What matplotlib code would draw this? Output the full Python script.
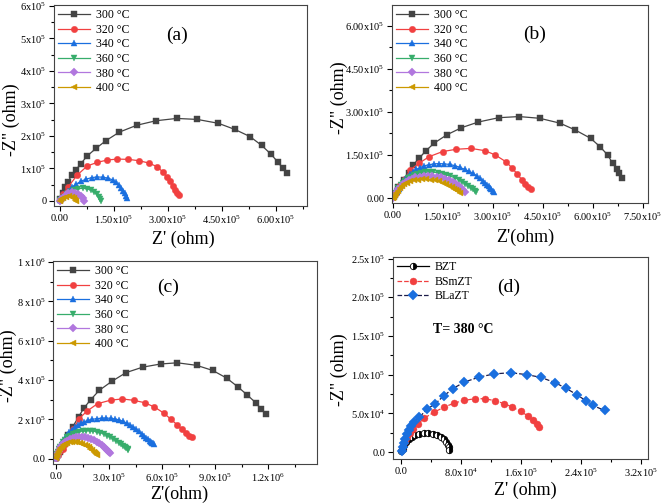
import matplotlib
matplotlib.use("Agg")
import numpy as np
import matplotlib.pyplot as plt
from matplotlib.ticker import FixedLocator, FixedFormatter, MultipleLocator

plt.rcParams['font.family'] = ['Liberation Serif', 'DejaVu Serif']
plt.rcParams['mathtext.fontset'] = 'custom'
plt.rcParams['mathtext.rm'] = 'Liberation Serif'
plt.rcParams['mathtext.it'] = 'Liberation Serif:italic'
plt.rcParams['mathtext.bf'] = 'Liberation Serif:bold'

# all impedance values in kOhm, (Z', -Z'')
TEMPS = ['300 °C', '320 °C', '340 °C', '360 °C', '380 °C', '400 °C']

A300 = [(1, 5), (8, 25), (15, 42), (23, 59.5), (32, 80), (44, 95), (57, 114), (76, 139), (100, 162),
        (128, 186), (165, 212), (213, 233), (267, 247), (324, 254), (381, 251), (440, 239), (486, 220),
        (528, 198), (560, 171), (585, 145), (605, 120), (619, 100), (630, 85)]
A320 = [(1, 4), (8, 20), (23, 44), (48, 80), (76, 108), (104, 119), (131, 126), (159, 129), (190, 128),
        (219, 124), (246, 117), (269, 106), (285, 90), (296, 75), (306, 60), (313, 46), (319, 34),
        (326, 26), (331, 18)]
A340 = [(1, 3), (6, 9), (14, 18), (23, 32), (32, 42), (44, 51), (57, 60), (72, 67), (88, 72), (104, 74),
        (120, 73), (134, 70), (146, 65), (156, 57), (164, 49), (170, 41), (176, 32), (181, 24),
        (184, 15), (187, 8)]
A360 = [(1, 2), (5, 6), (11, 13), (18.5, 21.5), (28, 29), (39, 35), (51, 38), (63, 39), (74, 38),
        (85, 34), (94, 28), (102, 20.5), (107, 12), (111, 5), (113, 0)]
A380 = [(1, 1.5), (4, 5), (9, 10), (16, 17.5), (23, 23.5), (32, 26.5), (42, 25.5), (51, 21.5),
        (58, 15.5), (64, 8), (68, 0)]
A400 = [(0, 0), (3, 5), (9, 10), (17, 13), (25, 14.5), (32, 13), (38, 9), (42, 3), (43.5, 0)]

B300 = [(1, 2), (6, 15), (16, 40), (32, 63), (47, 86), (60, 115), (78, 138), (98, 164), (123, 191),
        (161, 220), (205, 245), (256, 265), (317, 280), (378, 284), (440, 278), (501, 261), (547, 237),
        (593, 208), (621, 179), (644, 150), (659, 121), (672, 100), (679, 86), (686, 71)]
B320 = [(1, 2), (8, 18), (21, 45), (36, 68), (52, 98), (78, 121), (108, 144), (149, 162), (190, 170),
        (234, 173), (276, 165), (307, 150), (338, 127), (358, 104), (373, 83), (387, 63), (397, 49),
        (406, 37), (414, 30)]
B340 = [(1, 2), (5, 10), (11, 22), (17, 33), (23.5, 45), (30, 55), (37, 65), (44, 75), (52, 84), (61, 92),
        (70, 100), (81, 106), (93, 112), (108, 116), (123, 119), (138, 120), (154, 119), (170, 117),
        (185, 113), (200, 107), (215, 100), (228, 93), (241, 86), (251, 77), (261, 69), (269, 61),
        (276, 53), (282, 47), (287, 42), (291, 36), (295, 31), (299, 26), (302, 22)]
B360 = [(1, 2), (4, 9), (8, 16), (12, 25), (16, 34), (23, 44), (30, 53.5), (37, 61), (44, 69), (53, 75),
        (62, 81), (72, 85), (83, 88), (95, 90), (108, 91), (121, 90), (134, 88), (146, 85), (159, 81),
        (172, 76), (185, 71), (197, 64), (208, 57), (217, 50), (225, 43), (233, 36), (241, 30),
        (245, 25), (249, 20)]
B380 = [(1, 1), (3, 7), (6, 14), (11, 22), (16, 30), (23, 39), (30, 48), (38, 56), (47, 63), (57, 68),
        (67, 72), (80, 75), (93, 77), (105, 77.5), (118, 77), (131, 75), (144, 72), (157, 68),
        (169, 63), (180, 56), (190, 49), (198, 42), (205, 35), (210, 28), (215, 22)]
B400 = [(1, 0), (3, 5), (6, 10.5), (10, 18), (14, 26), (20, 34), (26.5, 42), (34, 48), (42, 53.5),
        (52, 58), (62, 62), (75, 64), (88, 65), (100, 65), (113, 64), (126, 61.5), (139, 58), (149, 54),
        (159, 49), (168, 43), (176, 37), (183, 32), (190, 27), (195, 23), (200, 19)]

C300 = [(2, 5), (10, 18), (23, 34), (45, 76), (70, 119), (94, 161), (128, 214), (158, 258), (196, 300),
        (245, 348), (315, 393), (396, 438), (491, 466), (593, 482), (687, 488), (796, 475), (887, 449),
        (966, 410), (1030, 365), (1080, 326), (1130, 285), (1160, 254), (1190, 226)]
C320 = [(2, 5), (12, 20), (24, 38), (37.5, 51), (50, 75), (66, 102), (82, 128), (99, 153), (131, 204),
        (174, 241), (235, 280), (310, 298), (375, 304), (441, 297), (501, 285), (557, 263), (610, 232),
        (651, 200), (685, 173), (713, 149), (735, 129), (754, 115), (769, 110)]
C340 = [(2, 5), (5, 15), (10, 30), (15, 45), (22, 60), (30, 75), (40, 90), (50, 105), (62, 120), (75, 135),
        (90, 148), (105, 160), (122, 171), (140, 180), (160, 188), (180, 195), (205, 200), (230, 204),
        (258, 206), (285, 207), (310, 205), (335, 202), (358, 197), (380, 190), (400, 181), (420, 172),
        (438, 161), (455, 150), (470, 139), (485, 127), (498, 116), (510, 107), (521, 99), (530, 92),
        (538, 86), (545, 82), (550, 78), (555, 75)]
C360 = [(1, 4), (4, 12), (8, 23), (12, 35), (18, 47), (25, 60), (33, 72), (42, 85), (53, 97), (65, 108),
        (80, 118), (95, 126), (112, 133), (130, 138), (150, 141), (170, 143), (190, 142), (210, 141),
        (230, 137), (250, 133), (270, 126), (290, 118), (308, 109), (325, 100), (340, 91), (355, 82),
        (368, 73), (380, 65), (390, 58), (398, 52), (405, 48), (410, 44)]
C380 = [(1, 3), (3, 10), (6, 19), (10, 30), (15, 40), (22, 52), (30, 63), (40, 74), (50, 83), (63, 92),
        (78, 99), (95, 105), (112, 109), (130, 110), (148, 110), (165, 108), (183, 104), (200, 100),
        (216, 94), (230, 87), (245, 78), (260, 68), (272, 59), (282, 50), (290, 43), (297, 37),
        (302, 32), (305, 29)]
C400 = [(1, 2), (2, 8), (5, 17), (8, 26), (13, 36), (18, 45), (25, 54), (33, 62), (42, 69), (53, 75),
        (65, 80), (78, 83), (92, 85.5), (105, 86), (120, 85), (135, 82), (149, 77), (162, 72), (174, 65),
        (185, 58), (195, 50), (205, 43), (213, 36), (220, 30), (225, 25), (230, 20)]

D_NAMES = ['BZT', 'BSmZT', 'BLaZT']
D_BZT = [(0.9, 0.9), (2.7, 4.3), (4.9, 8.6), (7.6, 12.9), (10.7, 16.4), (14.7, 19.4), (19.1, 22),
         (24.9, 23.7), (30.7, 24.5), (36.9, 24.5), (42.7, 23.7), (48.4, 22), (53.8, 19.4), (57.3, 16.4),
         (60.4, 12.9), (62.7, 9.5), (64.4, 6), (65, 2.6)]
D_BSMZT = [(1.8, 3.4), (3.6, 8.6), (5.8, 13.8), (8.4, 19), (12, 24.5), (16.4, 30), (22.7, 36), (31.6, 43.9),
           (44.9, 51.7), (58.2, 58.1), (71.5, 63.3), (84.9, 66.8), (99.1, 68.9), (112, 68.9), (126, 66.3),
           (138, 62.5), (149, 58.1), (160, 52.5), (170, 46.5), (177, 40.9), (182, 36.2), (185, 32.7)]
D_BLAZT = [(1.3, 1.3), (2.7, 6.5), (4, 11.6), (5.8, 17.2), (8, 22.8), (10.7, 28), (13.8, 33.6), (18.2, 38.8),
           (24.9, 44.8), (34.7, 55.1), (46.2, 62.5), (57.3, 72.4), (69.3, 81.8), (84.9, 90.4), (105, 96.9),
           (125, 101), (147, 102.5), (168, 100), (187, 96.5), (206, 89.6), (220, 82.7), (235, 74.1),
           (247, 66.3), (256, 60.3), (272, 53.8)]

COLORS = ['#444444', '#F14040', '#1A6FDF', '#37AD6B', '#B177DE', '#CC9900']
MARKERS = ['s', 'o', '^', 'v', 'D', '<']
MSIZE = [4.2, 4.6, 5, 5, 4.2, 5]

fig = plt.figure(figsize=(6.62, 5.04), dpi=100)


def xy(points):
    arr = np.array(points, dtype=float) * 1e3
    return arr[:, 0], arr[:, 1]


def setup(ax, xlim, ylim, xt, xl, xminor, yt, yl, yminor, xlabel, ylabel, xlab_pos, ylab_pos):
    ax.set_xlim(*xlim)
    ax.set_ylim(*ylim)
    ax.xaxis.set_major_locator(FixedLocator(xt))
    ax.xaxis.set_major_formatter(FixedFormatter(xl))
    ax.yaxis.set_major_locator(FixedLocator(yt))
    ax.yaxis.set_major_formatter(FixedFormatter(yl))
    ax.xaxis.set_minor_locator(MultipleLocator(xminor))
    ax.yaxis.set_minor_locator(MultipleLocator(yminor))
    ax.tick_params(which='both', direction='out', top=False, right=False, labelsize=7.5, width=0.8)
    ax.tick_params(which='major', length=3.5, pad=2)
    ax.tick_params(which='minor', length=2)
    for s in ax.spines.values():
        s.set_linewidth(0.8)
        s.set_color('#444444')
    ax.set_xlabel(xlabel, fontsize=13)
    ax.set_ylabel(ylabel, fontsize=13)
    ax.xaxis.set_label_coords(*xlab_pos)
    ax.yaxis.set_label_coords(*ylab_pos)


def temp_panel(ax, series):
    for i, pts in enumerate(series):
        x, y = xy(pts)
        ax.plot(x, y, color=COLORS[i], marker=MARKERS[i], markersize=MSIZE[i], lw=0.9,
                markeredgewidth=0.3, label=TEMPS[i])
    ax.legend(loc='upper left', frameon=False, fontsize=8.5, handlelength=2.7, handletextpad=0.5,
              labelspacing=0.22, borderaxespad=0.25, borderpad=0.1)


# (a)
ax = fig.add_axes([54 / 662, 1 - 206 / 504, 253 / 662, 201 / 504])
temp_panel(ax, [A300, A320, A340, A360, A380, A400])
setup(ax, (-1.67e4, 6.86e5), (-1.54e4, 6.03e5),
      [0, 1.5e5, 3e5, 4.5e5, 6e5], ['0.00', r'1.50x10$^5$', r'3.00x10$^5$', r'4.50x10$^5$', r'6.00x10$^5$'], 7.5e4,
      [0, 1e5, 2e5, 3e5, 4e5, 5e5, 6e5], ['0', r'1x10$^5$', r'2x10$^5$', r'3x10$^5$', r'4x10$^5$', r'5x10$^5$', r'6x10$^5$'], 5e4,
      "Z' (ohm)", '-Z" (ohm)', (0.51, -0.125), (-0.135, 0.43))
ax.text(0.486, 0.85, '(a)', transform=ax.transAxes, fontsize=14, ha='center', va='center')

# (b)
ax = fig.add_axes([392 / 662, 1 - 203 / 504, 256 / 662, 198 / 504])
temp_panel(ax, [B300, B320, B340, B360, B380, B400])
setup(ax, (-3e3, 7.65e5), (-1.74e4, 6.73e5),
      [0, 1.5e5, 3e5, 4.5e5, 6e5, 7.5e5],
      ['0.00', r'1.50x10$^5$', r'3.00x10$^5$', r'4.50x10$^5$', r'6.00x10$^5$', r'7.50x10$^5$'], 7.5e4,
      [0, 1.5e5, 3e5, 4.5e5, 6e5],
      ['0.00', r'1.50x10$^5$', r'3.00x10$^5$', r'4.50x10$^5$', r'6.00x10$^5$'], 7.5e4,
      "Z'(ohm)", '-Z" (ohm)', (0.52, -0.13), (-0.172, 0.53))
ax.text(0.555, 0.85, '(b)', transform=ax.transAxes, fontsize=14, ha='center', va='center')

# (c)
ax = fig.add_axes([53 / 662, 1 - 464 / 504, 264 / 662, 203 / 504])
temp_panel(ax, [C300, C320, C340, C360, C380, C400])
setup(ax, (-1.7e4, 1.477e6), (-2.7e4, 1.006e6),
      [0, 3e5, 6e5, 9e5, 1.2e6], ['0.0', r'3.0x10$^5$', r'6.0x10$^5$', r'9.0x10$^5$', r'1.2x10$^6$'], 1.5e5,
      [0, 2e5, 4e5, 6e5, 8e5, 1e6], ['0.0', r'2 x10$^5$', r'4 x10$^5$', r'6 x10$^5$', r'8 x10$^5$', r'1 x10$^6$'], 1e5,
      "Z'(ohm)", '-Z" (ohm)', (0.478, -0.105), (-0.136, 0.485))
ax.text(0.436, 0.87, '(c)', transform=ax.transAxes, fontsize=14, ha='center', va='center')

# (d)
ax = fig.add_axes([393 / 662, 1 - 459 / 504, 255 / 662, 202 / 504])
x, y = xy(D_BZT)
ax.plot(x, y, color='black', marker='o', markersize=4.6, lw=0.9, fillstyle='right',
        markerfacecolor='black', markerfacecoloralt='white', markeredgecolor='black',
        markeredgewidth=0.6, label=D_NAMES[0])
x, y = xy(D_BSMZT)
ax.plot(x, y, color='#F14040', marker='o', markersize=5, lw=0.9, ls='--',
        markeredgewidth=0.3, label=D_NAMES[1])
x, y = xy(D_BLAZT)
ax.plot(x, y, color='#1c1c4a', marker='D', markersize=4.6, lw=0.9, ls='--',
        markerfacecolor='#1A6FDF', markeredgecolor='#1A6FDF', markeredgewidth=0.3, label=D_NAMES[2])
ax.legend(loc='upper left', frameon=False, fontsize=8.5, handlelength=2.7, handletextpad=0.5,
          labelspacing=0.22, borderaxespad=0.25, borderpad=0.1)
setup(ax, (-1.03e4, 3.3e5), (-9e3, 2.52e5),
      [0, 8e4, 1.6e5, 2.4e5, 3.2e5], ['0.0', r'8.0x10$^4$', r'1.6x10$^5$', r'2.4x10$^5$', r'3.2x10$^5$'], 4e4,
      [0, 5e4, 1e5, 1.5e5, 2e5, 2.5e5],
      ['0.0', r'5.0x10$^4$', r'1.0x10$^5$', r'1.5x10$^5$', r'2.0x10$^5$', r'2.5x10$^5$'], 2.5e4,
      "Z' (ohm)", '-Z" (ohm)', (0.52, -0.114), (-0.176, 0.44))
ax.text(0.455, 0.85, '(d)', transform=ax.transAxes, fontsize=14, ha='center', va='center')
ax.text(0.275, 0.64, 'T= 380 °C', transform=ax.transAxes, fontsize=10, fontweight='bold',
        ha='center', va='center')

fig.savefig('out.png', dpi=100)
